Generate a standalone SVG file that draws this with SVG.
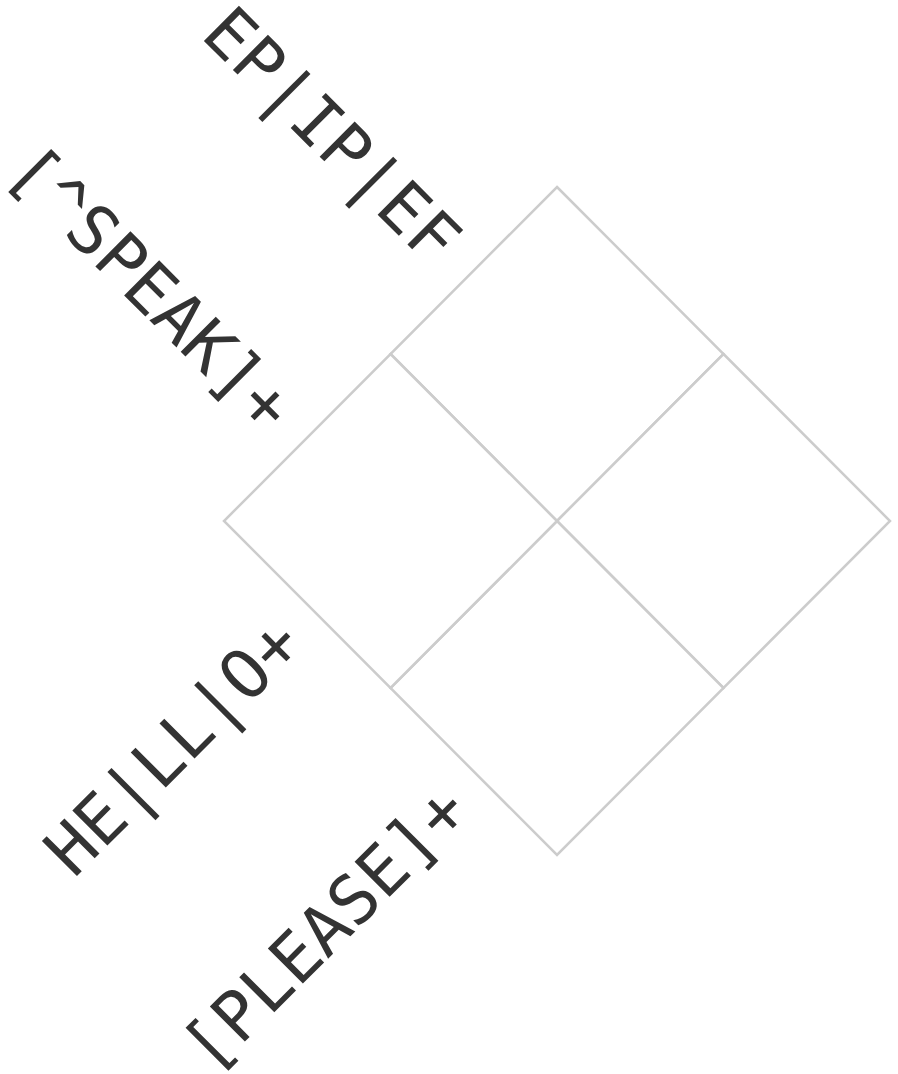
<svg xmlns="http://www.w3.org/2000/svg" width="898" height="1074" viewBox="0 0 898 1074">
<style>
.cell{fill:#fff;stroke:#cccccc;stroke-width:2.5;stroke-linejoin:miter}
.lbl{font-family:"DejaVu Sans Mono",monospace;font-size:68px;fill:#333333;text-anchor:end}
</style>
<rect width="898" height="1074" fill="#ffffff"/>
<g id="grid">
<g id="cell-top"><polygon class="cell" points="557,187 723.5,354 557,521 390.5,354"/></g>
<g id="cell-right"><polygon class="cell" points="723.5,354 890,521 723.5,688 557,521"/></g>
<g id="cell-bottom"><polygon class="cell" points="557,521 723.5,688 557,855 390.5,688"/></g>
<g id="cell-left"><polygon class="cell" points="390.5,354 557,521 390.5,688 224,521"/></g>
</g>
<g id="label-col1" transform="translate(474,270) rotate(45)"><text class="lbl" x="-32" y="29">EP|IP|EF</text></g>
<g id="label-col2" transform="translate(307.5,437.5) rotate(45)"><text class="lbl" x="-32" y="29">[^SPEAK]+</text></g>
<g id="label-row1" transform="translate(307.5,604.5) rotate(-45)"><text class="lbl" x="-32" y="29">HE|LL|O+</text></g>
<g id="label-row2" transform="translate(474,771.5) rotate(-45)"><text class="lbl" x="-32" y="29">[PLEASE]+</text></g>
</svg>
